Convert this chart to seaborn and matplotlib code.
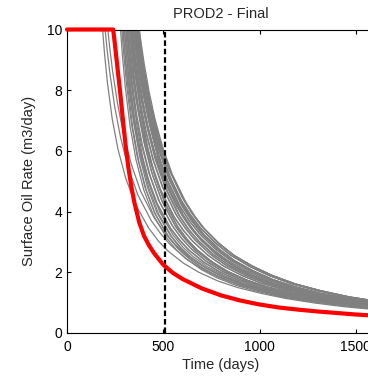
import pandas as pd
import seaborn as sns
import matplotlib.pyplot as plt

# rate plateau and the cut-off marker
max_rate = 10
cutoff_day = 510

# red reference run
red_day = [0, 240, 250, 262, 275, 290, 305, 320, 335, 350, 375, 400, 425, 450, 500, 550, 600,
           700, 800, 900, 1000, 1100, 1200, 1300, 1400, 1500, 1600]
red_rate = [10, 10, 9.45, 8.75, 8.0, 7.05, 6.15, 5.4, 4.8, 4.3, 3.65, 3.2, 2.9, 2.65, 2.25, 1.98, 1.78,
            1.47, 1.24, 1.07, 0.94, 0.84, 0.77, 0.71, 0.66, 0.61, 0.57]

# gray ensemble: day each run leaves the plateau, then rate at days after that
gray_start = [185, 198, 212,
              278, 285, 292, 299, 306, 313,
              290, 298, 305, 312, 319, 326, 333, 340,
              310, 317, 324, 331, 338, 345, 352, 358, 364,
              330, 337, 344, 351, 357, 363, 369, 374,
              345, 352, 358, 364, 370, 376]
gray_offset = [0, 10, 25, 50, 80, 120, 170, 240, 290, 340, 420, 500, 600, 700, 820, 950, 1100, 1250, 1400]
gray_rate = [
    [10, 9.20, 8.25, 7.05, 6.05, 5.10, 4.25, 3.45, 3.03, 2.70, 2.30, 2.00, 1.71, 1.50, 1.31, 1.14, 0.99, 0.87, 0.78],
    [10, 9.35, 8.55, 7.45, 6.45, 5.45, 4.55, 3.70, 3.26, 2.90, 2.45, 2.12, 1.81, 1.58, 1.37, 1.19, 1.03, 0.90, 0.81],
    [10, 9.40, 8.62, 7.58, 6.60, 5.60, 4.68, 3.80, 3.35, 2.98, 2.52, 2.18, 1.86, 1.62, 1.40, 1.21, 1.05, 0.92, 0.82],

    [10, 9.13, 8.09, 6.80, 5.72, 4.73, 3.89, 3.13, 2.74, 2.45, 2.09, 1.82, 1.57, 1.39, 1.21, 1.07, 0.94, 0.84, 0.76],
    [10, 9.18, 8.15, 6.88, 5.80, 4.80, 3.95, 3.18, 2.79, 2.50, 2.13, 1.86, 1.60, 1.42, 1.23, 1.09, 0.96, 0.85, 0.77],
    [10, 9.10, 8.05, 6.75, 5.68, 4.70, 3.88, 3.14, 2.76, 2.47, 2.11, 1.85, 1.59, 1.41, 1.23, 1.08, 0.95, 0.85, 0.77],
    [10, 9.16, 8.12, 6.84, 5.77, 4.78, 3.94, 3.19, 2.80, 2.51, 2.15, 1.88, 1.62, 1.44, 1.25, 1.10, 0.97, 0.86, 0.78],
    [10, 9.12, 8.10, 6.82, 5.74, 4.76, 3.92, 3.16, 2.78, 2.49, 2.14, 1.87, 1.61, 1.43, 1.25, 1.10, 0.97, 0.86, 0.78],
    [10, 9.15, 8.13, 6.86, 5.79, 4.81, 3.97, 3.21, 2.82, 2.53, 2.17, 1.90, 1.63, 1.45, 1.26, 1.11, 0.98, 0.87, 0.79],

    [10, 9.28, 8.38, 7.22, 6.20, 5.21, 4.33, 3.50, 3.08, 2.74, 2.33, 2.02, 1.73, 1.51, 1.32, 1.15, 1.00, 0.88, 0.79],
    [10, 9.25, 8.33, 7.15, 6.12, 5.15, 4.28, 3.46, 3.05, 2.71, 2.31, 2.00, 1.72, 1.50, 1.31, 1.14, 1.00, 0.88, 0.79],
    [10, 9.30, 8.42, 7.28, 6.26, 5.27, 4.38, 3.55, 3.12, 2.78, 2.36, 2.05, 1.75, 1.53, 1.33, 1.16, 1.01, 0.89, 0.80],
    [10, 9.27, 8.36, 7.20, 6.18, 5.19, 4.31, 3.49, 3.07, 2.73, 2.32, 2.01, 1.73, 1.51, 1.32, 1.15, 1.00, 0.88, 0.79],
    [10, 9.32, 8.45, 7.32, 6.30, 5.31, 4.42, 3.58, 3.15, 2.81, 2.39, 2.07, 1.77, 1.55, 1.35, 1.17, 1.02, 0.90, 0.80],
    [10, 9.26, 8.35, 7.18, 6.15, 5.17, 4.30, 3.48, 3.07, 2.73, 2.33, 2.02, 1.74, 1.52, 1.33, 1.16, 1.01, 0.89, 0.80],
    [10, 9.29, 8.40, 7.25, 6.23, 5.24, 4.36, 3.53, 3.10, 2.76, 2.35, 2.04, 1.75, 1.53, 1.34, 1.16, 1.01, 0.89, 0.80],
    [10, 9.24, 8.31, 7.12, 6.09, 5.12, 4.26, 3.45, 3.04, 2.71, 2.31, 2.01, 1.73, 1.52, 1.33, 1.16, 1.01, 0.89, 0.80],

    [10, 9.43, 8.68, 7.65, 6.68, 5.69, 4.78, 3.88, 3.41, 3.04, 2.57, 2.22, 1.89, 1.64, 1.42, 1.23, 1.06, 0.93, 0.83],
    [10, 9.40, 8.63, 7.58, 6.60, 5.62, 4.72, 3.83, 3.37, 3.00, 2.54, 2.19, 1.87, 1.62, 1.41, 1.22, 1.05, 0.92, 0.82],
    [10, 9.45, 8.72, 7.70, 6.74, 5.75, 4.83, 3.92, 3.45, 3.07, 2.60, 2.24, 1.91, 1.66, 1.44, 1.24, 1.07, 0.94, 0.84],
    [10, 9.41, 8.65, 7.62, 6.65, 5.66, 4.76, 3.86, 3.40, 3.03, 2.56, 2.21, 1.89, 1.64, 1.42, 1.23, 1.06, 0.93, 0.83],
    [10, 9.44, 8.70, 7.68, 6.71, 5.72, 4.81, 3.90, 3.43, 3.06, 2.59, 2.24, 1.91, 1.66, 1.44, 1.25, 1.08, 0.94, 0.84],
    [10, 9.42, 8.66, 7.63, 6.66, 5.67, 4.77, 3.87, 3.40, 3.03, 2.57, 2.22, 1.90, 1.65, 1.43, 1.24, 1.07, 0.94, 0.84],
    [10, 9.46, 8.74, 7.73, 6.77, 5.78, 4.86, 3.95, 3.47, 3.09, 2.62, 2.26, 1.93, 1.67, 1.45, 1.25, 1.08, 0.95, 0.85],
    [10, 9.43, 8.67, 7.64, 6.67, 5.68, 4.77, 3.87, 3.41, 3.04, 2.57, 2.22, 1.89, 1.64, 1.42, 1.23, 1.06, 0.93, 0.83],
    [10, 9.44, 8.69, 7.66, 6.69, 5.70, 4.79, 3.89, 3.42, 3.05, 2.58, 2.23, 1.90, 1.65, 1.43, 1.24, 1.07, 0.94, 0.84],

    [10, 9.50, 8.81, 7.86, 6.95, 5.99, 5.08, 4.16, 3.67, 3.27, 2.78, 2.40, 2.05, 1.77, 1.52, 1.31, 1.13, 0.98, 0.87],
    [10, 9.48, 8.78, 7.82, 6.90, 5.94, 5.03, 4.12, 3.64, 3.24, 2.76, 2.38, 2.03, 1.76, 1.51, 1.30, 1.12, 0.97, 0.87],
    [10, 9.52, 8.84, 7.90, 6.99, 6.03, 5.12, 4.19, 3.70, 3.30, 2.80, 2.42, 2.07, 1.79, 1.53, 1.32, 1.14, 0.99, 0.88],
    [10, 9.49, 8.80, 7.84, 6.92, 5.96, 5.05, 4.14, 3.65, 3.26, 2.77, 2.39, 2.04, 1.77, 1.52, 1.31, 1.13, 0.98, 0.87],
    [10, 9.51, 8.83, 7.88, 6.97, 6.01, 5.10, 4.18, 3.69, 3.29, 2.79, 2.41, 2.06, 1.78, 1.53, 1.32, 1.14, 0.99, 0.88],
    [10, 9.50, 8.80, 7.85, 6.93, 5.97, 5.06, 4.15, 3.66, 3.27, 2.78, 2.40, 2.05, 1.77, 1.52, 1.31, 1.13, 0.98, 0.87],
    [10, 9.49, 8.79, 7.83, 6.91, 5.95, 5.04, 4.13, 3.65, 3.25, 2.77, 2.39, 2.04, 1.76, 1.51, 1.30, 1.12, 0.97, 0.86],
    [10, 9.47, 8.76, 7.79, 6.87, 5.91, 5.00, 4.10, 3.62, 3.23, 2.75, 2.37, 2.03, 1.75, 1.51, 1.30, 1.12, 0.97, 0.86],

    [10, 9.56, 8.95, 8.08, 7.22, 6.29, 5.38, 4.44, 3.93, 3.51, 2.99, 2.58, 2.20, 1.90, 1.62, 1.40, 1.19, 1.04, 0.91],
    [10, 9.54, 8.92, 8.03, 7.16, 6.23, 5.33, 4.40, 3.90, 3.48, 2.97, 2.56, 2.19, 1.89, 1.61, 1.39, 1.18, 1.03, 0.91],
    [10, 9.57, 8.97, 8.11, 7.25, 6.32, 5.41, 4.47, 3.95, 3.53, 3.01, 2.60, 2.22, 1.92, 1.63, 1.41, 1.20, 1.05, 0.92],
    [10, 9.55, 8.94, 8.06, 7.20, 6.27, 5.36, 4.43, 3.92, 3.50, 2.98, 2.57, 2.20, 1.90, 1.62, 1.40, 1.19, 1.04, 0.91],
    [10, 9.53, 8.90, 8.00, 7.12, 6.18, 5.28, 4.36, 3.86, 3.45, 2.94, 2.54, 2.17, 1.88, 1.60, 1.38, 1.18, 1.03, 0.90],
    [10, 9.52, 8.88, 7.97, 7.08, 6.14, 5.24, 4.33, 3.83, 3.42, 2.92, 2.52, 2.16, 1.87, 1.60, 1.38, 1.18, 1.03, 0.90],
]

x_ticks = [0, 500, 1000, 1500]
y_ticks = [0, 2, 4, 6, 8, 10]

rows = []
for run, (start, rates) in enumerate(zip(gray_start, gray_rate)):
    rows.append((run, 0, max_rate))
    for off, r in zip(gray_offset, rates):
        rows.append((run, start + off, r))
gray = pd.DataFrame(rows, columns=['run', 'day', 'rate'])

sns.set_style('ticks')
plt.rcParams['font.family'] = ['Liberation Sans', 'DejaVu Sans']
plt.rcParams['xtick.direction'] = 'in'
plt.rcParams['ytick.direction'] = 'in'

fig = plt.figure(figsize=(3.68, 3.80), dpi=100)
ax = fig.add_axes([67 / 368, 47 / 380, 308 / 368, 303.5 / 380])

sns.lineplot(data=gray, x='day', y='rate', units='run', estimator=None,
             color='#808080', lw=0.9, legend=False, ax=ax)
ax.axvline(cutoff_day, color='black', lw=1.6, ls=(0, (2.5, 1.3)), zorder=4)
sns.lineplot(x=red_day, y=red_rate, color='red', lw=3, ax=ax, clip_on=False, zorder=5)

ax.set_xlim(0, 1600)
ax.set_ylim(0, 10)
ax.set_xticks(x_ticks)
ax.set_yticks(y_ticks)
ax.tick_params(labelsize=10, length=3, width=0.8, top=True, right=True, colors='black')
ax.tick_params(axis='x', pad=5)
ax.tick_params(axis='y', pad=3.5)
for s in ax.spines.values():
    s.set_color('black')
    s.set_linewidth(0.8)

ax.set_title('PROD2 - Final', fontsize=10.5, pad=8)
ax.set_xlabel('Time (days)', fontsize=10.5, labelpad=3)
ax.set_ylabel('Surface Oil Rate (m3/day)', fontsize=10.5, labelpad=8)

fig.savefig('out.png', dpi=100)
